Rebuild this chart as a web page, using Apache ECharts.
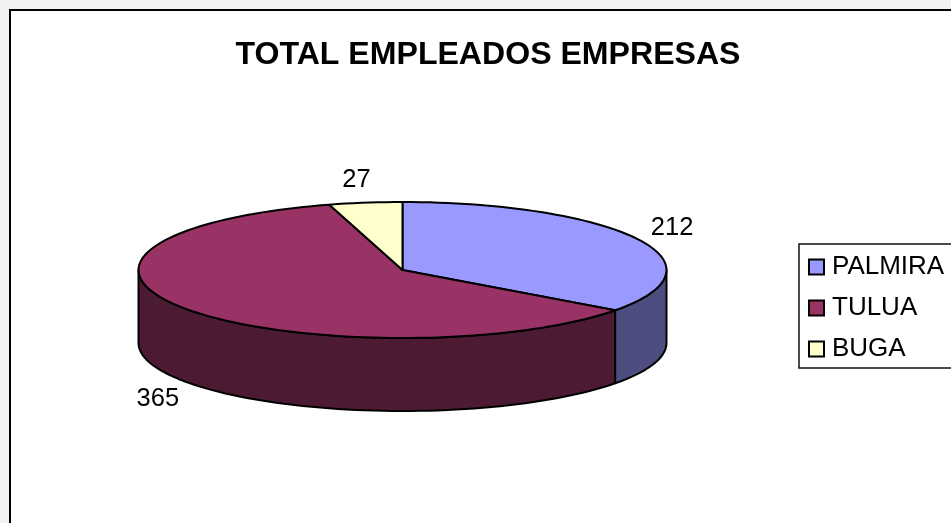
<!DOCTYPE html>
<html>
<head>
<meta charset="utf-8">
<style>html,body{margin:0;padding:0;background:#f2f2f2}#c{width:951px;height:523px}</style>
<script src="https://cdn.jsdelivr.net/npm/echarts@6/dist/echarts.min.js"></script>
</head>
<body>
<div id="c"></div>
<script>
const titleText = 'TOTAL EMPLEADOS EMPRESAS';
const categories = ['PALMIRA', 'TULUA', 'BUGA'];
const values = [212, 365, 27];
const topColors = ['#9999ff', '#993366', '#ffffcc'];
const sideColors = ['#4d4d80', '#4d1a33', '#808066'];
const labelOffsets = [[34, -11], [-28, 90], [-9, -23]];
const pie = { cx: 402.5, cy: 270, rx: 264, ry: 68, depth: 73 };
const FONT = '"Liberation Sans", Arial, sans-serif';

const total = values.reduce((a, b) => a + b, 0);
const starts = values.map((v, i) => values.slice(0, i).reduce((a, b) => a + b, 0) / total * Math.PI * 2);

function pointAt(a, dy) {
  return [pie.cx + pie.rx * Math.sin(a), pie.cy - pie.ry * Math.cos(a) + (dy || 0)];
}
function arcPoints(a0, a1, dy) {
  const n = Math.max(2, Math.ceil(Math.abs(a1 - a0) / (Math.PI / 90)));
  const pts = [];
  for (let k = 0; k <= n; k++) pts.push(pointAt(a0 + (a1 - a0) * k / n, dy));
  return pts;
}
function renderSlice(i) {
  return function (params, api) {
    const a0 = starts[i];
    const a1 = a0 + api.value(0) / total * Math.PI * 2;
    const children = [];
    const fa0 = Math.max(a0, Math.PI / 2), fa1 = Math.min(a1, Math.PI * 1.5);
    const line = { stroke: '#000', lineWidth: 2, lineJoin: 'round' };
    if (fa1 > fa0) {
      children.push({
        type: 'polygon',
        shape: { points: arcPoints(fa0, fa1, 0).concat(arcPoints(fa1, fa0, pie.depth)) },
        style: Object.assign({ fill: sideColors[i] }, line)
      });
    }
    children.push({
      type: 'polygon',
      shape: { points: [[pie.cx, pie.cy]].concat(arcPoints(a0, a1, 0)) },
      style: Object.assign({ fill: topColors[i] }, line)
    });
    const mid = pointAt((a0 + a1) / 2, 0);
    children.push({
      type: 'text',
      x: mid[0] + labelOffsets[i][0],
      y: mid[1] + labelOffsets[i][1],
      style: { text: String(api.value(0)), font: '25.5px ' + FONT, fill: '#000', align: 'center', verticalAlign: 'middle' }
    });
    return { type: 'group', children };
  };
}

const chart = echarts.init(document.getElementById('c'), null, { renderer: 'canvas' });
chart.setOption({
  animation: false,
  backgroundColor: '#f2f2f2',
  title: {
    text: titleText, left: 483, top: 34, textAlign: 'center',
    textStyle: { fontFamily: FONT, fontSize: 32.1, fontWeight: 'bold', color: '#000' }
  },
  graphic: [{
    type: 'rect', z: -10, silent: true,
    shape: { x: 10, y: 10, width: 1000, height: 600 },
    style: { fill: '#fff', stroke: '#000', lineWidth: 2 }
  }],
  legend: {
    orient: 'vertical', align: 'left', left: 799, top: 244,
    padding: [10, 40, 6, 9],
    icon: 'rect', itemWidth: 15, itemHeight: 15, itemGap: 15,
    backgroundColor: '#fff', borderColor: '#111', borderWidth: 1.5,
    textStyle: { fontFamily: FONT, fontSize: 26, color: '#000', padding: [0, 0, 6, 3] },
    data: categories
  },
  series: categories.map((name, i) => ({
    type: 'custom', name, coordinateSystem: 'none',
    itemStyle: { color: topColors[i], borderColor: '#000', borderWidth: 2 },
    renderItem: renderSlice(i),
    data: [[values[i]]]
  }))
});
</script>
</body>
</html>
